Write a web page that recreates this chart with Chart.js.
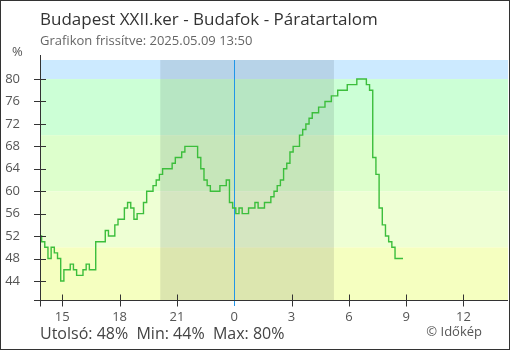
<!DOCTYPE html>
<html>
<head>
<meta charset="utf-8">
<title>Budapest XXII.ker - Budafok - Páratartalom</title>
<script src="https://cdn.jsdelivr.net/npm/chart.js"></script>
<style>
  html, body { margin: 0; padding: 0; background: #fff; }
</style>
</head>
<body>
<canvas id="humChart" width="510" height="350"></canvas>

<script>
// readings every 10 minutes, hours counted from midnight (13:50 the day before)
const startHour = -(10 + 10 / 60);
const stepMinutes = 10;
const humidity = [
    52, 51, 50, 48, 50, 49, 48, 44, 46, 46,
    47, 46, 45, 45, 46, 47, 46, 46, 51, 51,
    51, 53, 52, 52, 54, 55, 55, 57, 58, 57,
    55, 56, 56, 58, 60, 60, 61, 62, 63, 64,
    64, 64, 65, 66, 66, 67, 68, 68, 68, 68,
    66, 64, 62, 61, 60, 60, 60, 61, 61, 62,
    58, 57, 56, 57, 56, 56, 57, 57, 58, 57,
    57, 58, 58, 59, 60, 61, 62, 64, 65, 67,
    68, 68, 70, 71, 72, 73, 74, 74, 75, 75,
    76, 76, 77, 77, 78, 78, 78, 79, 79, 79,
    80, 80, 80, 79, 78, 66, 63, 57, 54, 52,
    51, 50, 48, 48, 48
];

const xTickHours = [-9, -6, -3, 0, 3, 6, 9, 12];
const xTickLabels = ['15', '18', '21', '0', '3', '6', '9', '12'];
const yTicks = [44, 48, 52, 56, 60, 64, 68, 72, 76, 80];
const bandLimits = [80, 70, 60, 50];
const sunset = -3.87;   // 20:08
const sunrise = 5.22;   // 05:13

const points = humidity.map((v, i) => ({ x: startHour + i * stepMinutes / 60, y: v }));
const last = humidity[humidity.length - 1];
const minVal = Math.min(...humidity);
const maxVal = Math.max(...humidity);

const FONT = '"Open Sans", "Noto Sans", sans-serif';

const decor = {
    id: 'decor',
    beforeDraw(chart) {
        const { ctx, chartArea: a, scales: { x, y } } = chart;
        ctx.save();
        ctx.fillStyle = '#fff';
        ctx.fillRect(0, 0, chart.width, chart.height);

        // humidity bands
        const edges = [y.max].concat(bandLimits, [y.min]);
        const colors = ['#cceaff', '#ccffd6', '#ddffcc', '#eeffd4', '#f5ffc0'];
        for (let i = 0; i < colors.length; i++) {
            const t = y.getPixelForValue(edges[i]);
            const b = y.getPixelForValue(edges[i + 1]);
            ctx.fillStyle = colors[i];
            ctx.fillRect(a.left, t, a.right - a.left, b - t);
        }

        // night
        const n1 = x.getPixelForValue(sunset);
        const n2 = x.getPixelForValue(sunrise);
        ctx.fillStyle = 'rgba(0, 10, 30, 0.1)';
        ctx.fillRect(n1, a.top, n2 - n1, a.bottom - a.top);
        ctx.restore();
    },
    beforeDatasetsDraw(chart) {
        const { ctx, chartArea: a, scales: { x } } = chart;
        const mx = Math.round(x.getPixelForValue(0)) + 0.5;
        ctx.save();
        ctx.strokeStyle = '#2196e8';
        ctx.lineWidth = 1;
        ctx.beginPath();
        ctx.moveTo(mx, a.top);
        ctx.lineTo(mx, a.bottom + 6);
        ctx.stroke();
        ctx.restore();
    },
    afterDraw(chart) {
        const { ctx, chartArea: a, scales: { x, y } } = chart;
        ctx.save();

        // axes with ticks crossing the lines
        ctx.strokeStyle = '#333';
        ctx.lineWidth = 1;
        ctx.beginPath();
        const ax = a.left + 0.5;
        const ay = Math.round(a.bottom) + 0.5;
        ctx.moveTo(ax, a.top - 5);
        ctx.lineTo(ax, ay + 6);
        ctx.moveTo(a.left - 6, ay);
        ctx.lineTo(a.right, ay);
        yTicks.forEach(v => {
            const py = Math.round(y.getPixelForValue(v)) + 0.5;
            ctx.moveTo(a.left - 6, py);
            ctx.lineTo(a.left + 6, py);
        });
        xTickHours.forEach(h => {
            if (h === 0) return;
            const px = Math.round(x.getPixelForValue(h)) + 0.5;
            ctx.moveTo(px, ay - 6);
            ctx.lineTo(px, ay + 6);
        });
        ctx.stroke();

        // texts
        ctx.textBaseline = 'alphabetic';
        ctx.textAlign = 'left';
        ctx.fillStyle = '#333';
        ctx.font = '17px ' + FONT;
        ctx.fillText('Budapest XXII.ker - Budafok - Páratartalom', 40, 25);
        ctx.fillStyle = '#666';
        ctx.font = '13px ' + FONT;
        ctx.fillText('Grafikon frissítve: 2025.05.09 13:50', 40, 45);
        ctx.fillStyle = '#555';
        ctx.fillText('%', 12, 56);

        ctx.fillStyle = '#444';
        ctx.font = '16px ' + FONT;
        ctx.fillText('Utolsó: ' + last + '%  Min: ' + minVal + '%  Max: ' + maxVal + '%', 40, 339);
        ctx.fillStyle = '#555';
        ctx.font = '13px ' + FONT;
        ctx.textAlign = 'right';
        ctx.fillText('© Időkép', 482, 336);

        // frame
        ctx.strokeStyle = '#333';
        ctx.strokeRect(0.5, 0.5, chart.width - 1, chart.height - 1);
        ctx.restore();
    }
};

new Chart(document.getElementById('humChart'), {
    type: 'line',
    data: {
        datasets: [{
            data: points,
            borderColor: '#3cbe3c',
            borderWidth: 1.4,
            pointRadius: 0,
            stepped: 'middle',
            fill: false
        }]
    },
    options: {
        responsive: false,
        animation: false,
        devicePixelRatio: 1,
        layout: { padding: { top: 60, right: 2, left: 0, bottom: 0 } },
        plugins: {
            legend: { display: false },
            title: { display: false },
            tooltip: { enabled: false }
        },
        scales: {
            x: {
                type: 'linear',
                min: startHour,
                max: 14.33,
                grid: { display: false, drawTicks: false },
                border: { display: false },
                afterFit(s) { s.height = 50; },
                afterBuildTicks(s) { s.ticks = xTickHours.map(v => ({ value: v })); },
                ticks: {
                    autoSkip: false,
                    maxRotation: 0,
                    padding: 9,
                    color: '#555',
                    font: { family: FONT, size: 13 },
                    callback: (v) => xTickLabels[xTickHours.indexOf(v)]
                }
            },
            y: {
                min: 40.6,
                max: 83.4,
                grid: { display: false, drawTicks: false },
                border: { display: false },
                afterFit(s) { s.width = 40; },
                afterBuildTicks(s) { s.ticks = yTicks.map(v => ({ value: v })); },
                ticks: {
                    padding: 20,
                    color: '#555',
                    font: { family: FONT, size: 13 }
                }
            }
        }
    },
    plugins: [decor]
});
</script>
</body>
</html>
